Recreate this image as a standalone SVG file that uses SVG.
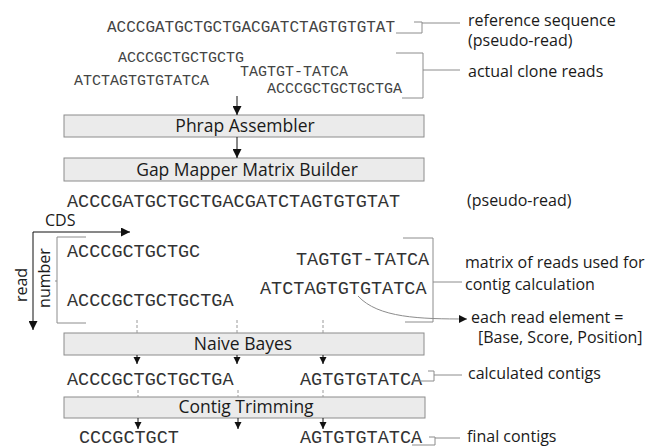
<svg xmlns="http://www.w3.org/2000/svg" width="652" height="448" viewBox="0 0 652 448">
<style>
.seqs{font-family:"Liberation Mono","Courier New",monospace;font-size:15px;fill:#444}
.seq{font-family:"Liberation Mono","Courier New",monospace;font-size:18.5px;fill:#333}
.lbl{font-family:"Open Sans","Noto Sans",sans-serif;font-size:16px;fill:#1a1a1a}
.btxt{font-family:"Open Sans","Noto Sans",sans-serif;font-size:17.5px;fill:#1a1a1a;text-anchor:middle}
.box{fill:#ebebeb;stroke:#8c8c8c;stroke-width:1}
.br{fill:none;stroke:#8c8c8c;stroke-width:1}
.ar{fill:none;stroke:#111;stroke-width:1}
.tick{stroke:#9a9a9a;stroke-width:1;stroke-dasharray:3,2}
</style>
<defs>
<marker id="ah" viewBox="0 0 10 10" refX="10" refY="5" markerUnits="userSpaceOnUse" markerWidth="12" markerHeight="9" orient="auto"><path d="M0,0 L10,5 L0,10 z" fill="#111"/></marker>
<marker id="ahs" viewBox="0 0 10 10" refX="10" refY="5" markerUnits="userSpaceOnUse" markerWidth="7" markerHeight="8" orient="auto"><path d="M0,0 L10,5 L0,10 z" fill="#111"/></marker>
<marker id="ahc" viewBox="0 0 10 10" refX="10" refY="5" markerUnits="userSpaceOnUse" markerWidth="10" markerHeight="8" orient="auto"><path d="M0,0 L10,5 L0,10 z" fill="#111"/></marker>
</defs>

<g id="input-reads">
<text class="seqs" x="107" y="32" style="font-size:16px">ACCCGATGCTGCTGACGATCTAGTGTGTAT</text>
<text class="seqs" x="118" y="62">ACCCGCTGCTGCTG</text>
<text class="seqs" x="74" y="85">ATCTAGTGTGTATCA</text>
<text class="seqs" x="240" y="76">TAGTGT-TATCA</text>
<text class="seqs" x="267" y="93">ACCCGCTGCTGCTGA</text>
</g>
<g id="label-reference">
<text class="lbl" x="468" y="26">reference sequence</text>
<text class="lbl" x="468" y="46">(pseudo-read)</text>
</g>
<g id="label-clone">
<text class="lbl" x="468" y="77">actual clone reads</text>
</g>

<g id="phrap">
<rect class="box" x="64" y="115" width="360" height="22"/>
<text class="btxt" x="245" y="132">Phrap Assembler</text>
</g>
<g id="gapmapper">
<rect class="box" x="64" y="158" width="360" height="23"/>
<text class="btxt" x="247" y="176">Gap Mapper Matrix Builder</text>
</g>

<g id="pseudo-read">
<text class="seq" x="67" y="207">ACCCGATGCTGCTGACGATCTAGTGTGTAT</text>
<text class="lbl" x="467" y="206">(pseudo-read)</text>
</g>

<g id="axes-labels">
<text class="lbl" x="45" y="226">CDS</text>
<text class="lbl" transform="translate(27,285) rotate(-90)" text-anchor="middle">read</text>
<text class="lbl" transform="translate(50,278) rotate(-90)" text-anchor="middle">number</text>
</g>

<g id="matrix">
<text class="seq" x="67" y="257">ACCCGCTGCTGC</text>
<text class="seq" x="296" y="265">TAGTGT-TATCA</text>
<text class="seq" x="260" y="294">ATCTAGTGTGTATCA</text>
<text class="seq" x="67" y="306">ACCCGCTGCTGCTGA</text>
</g>
<g id="label-matrix">
<text class="lbl" x="465" y="268">matrix of reads used for</text>
<text class="lbl" x="465" y="290">contig calculation</text>
</g>
<g id="label-element">
<text class="lbl" x="471" y="323">each read element =</text>
<text class="lbl" x="478" y="343">[Base, Score, Position]</text>
</g>

<g id="naivebayes">
<rect class="box" x="64" y="333" width="360" height="22"/>
<text class="btxt" x="243" y="350">Naive Bayes</text>
</g>

<g id="calculated">
<text class="seq" x="67" y="385">ACCCGCTGCTGCTGA</text>
<text class="seq" x="300" y="385">AGTGTGTATCA</text>
<text class="lbl" x="468" y="379">calculated contigs</text>
</g>

<g id="trimming">
<rect class="box" x="64" y="397" width="361" height="21"/>
<text class="btxt" x="246" y="413">Contig Trimming</text>
</g>

<g id="final">
<text class="seq" x="79" y="443">CCCGCTGCT</text>
<text class="seq" x="300" y="443">AGTGTGTATCA</text>
<text class="lbl" x="467" y="442">final contigs</text>
</g>

<g id="connectors">
<path class="br" d="M396,33 H422 V22 H414 M422,23 H460"/>
<path class="br" d="M396,53 H423 V98 H402 M423,70 H460"/>
<path class="br" d="M86,237 H57 V323 H86 M55,281 H57"/>
<path class="br" d="M403,238 H433 V322 H405 M433,282 H462"/>
<path class="br" d="M412,381 H434 V371 H428 M434,375 H462"/>
<path class="br" d="M412,445 H435 V437 H429 M435,438 H460"/>
<line class="ar" x1="237" y1="96" x2="237" y2="115" marker-end="url(#ah)"/>
<line class="ar" x1="237" y1="137" x2="237" y2="158" marker-end="url(#ah)"/>
<path class="ar" d="M33,232 H130" marker-end="url(#ah)"/>
<path class="ar" d="M33,232 V330" marker-end="url(#ah)"/>
<path class="br" d="M358,296 C378,318 420,319 467,319" marker-end="url(#ahc)"/>
<line class="tick" x1="137" y1="320" x2="137" y2="333"/>
<line class="tick" x1="237" y1="320" x2="237" y2="333"/>
<line class="tick" x1="323" y1="320" x2="323" y2="333"/>
<line class="ar" x1="137" y1="355" x2="137" y2="364" marker-end="url(#ahs)"/>
<line class="ar" x1="237" y1="355" x2="237" y2="364" marker-end="url(#ahs)"/>
<line class="ar" x1="323" y1="355" x2="323" y2="364" marker-end="url(#ahs)"/>
<line class="tick" x1="138" y1="390" x2="138" y2="397"/>
<line class="tick" x1="238" y1="390" x2="238" y2="397"/>
<line class="tick" x1="323" y1="390" x2="323" y2="397"/>
<line class="ar" x1="138" y1="418" x2="138" y2="429" marker-end="url(#ahs)"/>
<line class="ar" x1="238" y1="418" x2="238" y2="429" marker-end="url(#ahs)"/>
<line class="ar" x1="323" y1="418" x2="323" y2="429" marker-end="url(#ahs)"/>
</g>
</svg>
